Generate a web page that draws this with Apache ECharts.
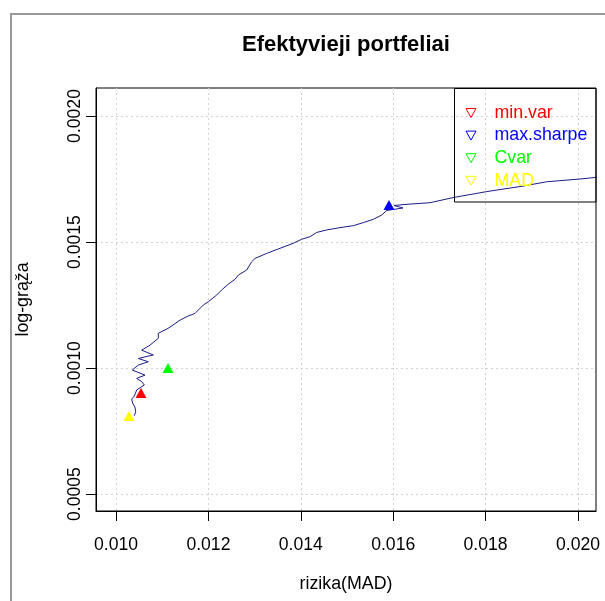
<!DOCTYPE html>
<html>
<head>
<meta charset="utf-8">
<script src="https://cdn.jsdelivr.net/npm/echarts@6/dist/echarts.min.js"></script>
<style>
html,body{margin:0;padding:0;background:#fff;}
#chart{width:605px;height:601px;}
</style>
</head>
<body>
<div id="chart"></div>
<script>
// Efficient frontier path (risk = MAD, return = log-return)
const frontierRisk = [0.010396,0.010426,0.010411,0.010361,0.010340,0.010396,0.010448,0.010613,0.010556,0.010448,
  0.010628,0.010353,0.010483,0.010699,0.010483,0.010807,0.010556,0.010736,0.010916,0.010916,
  0.011132,0.011385,0.011531,0.011710,0.011890,0.011998,0.012180,0.012288,0.012431,0.012576,
  0.012648,0.012829,0.012938,0.013009,0.013262,0.013550,0.013838,0.014019,0.014199,0.014344,
  0.014561,0.014848,0.015137,0.015353,0.015570,0.015751,0.015860,0.016212,0.016017,0.016255,
  0.016797,0.017316,0.018024,0.018816,0.019322,0.020043,0.020476];
const frontierRet = [0.000811,0.000827,0.000845,0.000861,0.000877,0.000889,0.000913,0.000933,0.000946,0.000959,
  0.000972,0.000992,0.001012,0.001025,0.001038,0.001052,0.001071,0.001091,0.001118,0.001138,
  0.001158,0.001190,0.001204,0.001217,0.001250,0.001263,0.001290,0.001310,0.001333,0.001352,
  0.001369,0.001389,0.001422,0.001435,0.001455,0.001475,0.001495,0.001511,0.001521,0.001538,
  0.001548,0.001557,0.001565,0.001577,0.001590,0.001607,0.001625,0.001635,0.001645,0.001649,
  0.001656,0.001677,0.001700,0.001722,0.001739,0.001750,0.001758];

// Special portfolios
const portfolioNames = ['min.var','max.sharpe','Cvar','MAD'];
const portfolioRisk  = [0.010541, 0.015909, 0.011126, 0.010281];
const portfolioRet   = [0.000901, 0.001647, 0.001000, 0.000810];
const portfolioColors = ['#ff0000','#0000ff','#00ff00','#ffff00'];

// Axis ticks
const xTicks = [0.010, 0.012, 0.014, 0.016, 0.018, 0.020];
const yTicks = [0.0005, 0.0010, 0.0015, 0.0020];

const FONT = "'Liberation Sans', Arial, sans-serif";
const chart = echarts.init(document.getElementById('chart'), null, {renderer:'canvas'});

const series = [{
  type: 'line',
  name: 'frontier',
  data: frontierRisk.map((x, i) => [x, frontierRet[i]]),
  showSymbol: false,
  symbol: 'none',
  lineStyle: {color: '#1c1c86', width: 1},
  clip: true,
  z: 2
}];
portfolioNames.forEach((n, i) => {
  series.push({
    type: 'scatter',
    name: n,
    data: [[portfolioRisk[i], portfolioRet[i]]],
    symbol: 'triangle',
    symbolSize: [11, 10],
    itemStyle: {color: portfolioColors[i], opacity: 1},
    z: 3
  });
});

const option = {
  animation: false,
  backgroundColor: '#fff',
  textStyle: {fontFamily: FONT},
  title: {
    text: 'Efektyvieji portfeliai',
    left: 346, top: 34, padding: 0,
    textAlign: 'center',
    textStyle: {fontFamily: FONT, fontSize: 22, fontWeight: 'bold', color: '#000'}
  },
  grid: {left: 96, top: 88, right: 9, bottom: 90, show: true, borderColor: '#000', borderWidth: 1, backgroundColor: 'transparent'},
  legend: {
    orient: 'vertical',
    left: 465.5, top: 104,
    padding: 0,
    itemWidth: 11, itemHeight: 9, itemGap: 4.6,
    selectedMode: false,
    textStyle: {fontFamily: FONT, fontSize: 17.8, padding: [0, 0, 0, 13]},
    data: portfolioNames.map((n, i) => ({
      name: n,
      icon: 'path://M0,0 L10,0 L5,9 Z',
      itemStyle: {color: 'rgba(0,0,0,0)', borderColor: portfolioColors[i], borderWidth: 1},
      textStyle: {color: portfolioColors[i]}
    }))
  },
  xAxis: {
    type: 'value',
    min: 0.009567, max: 0.02039,
    name: 'rizika(MAD)', nameLocation: 'middle', nameGap: 64,
    nameTextStyle: {fontFamily: FONT, fontSize: 17.8, color: '#000'},
    axisLine: {show: true, onZero: false, lineStyle: {color: '#000', width: 1}},
    axisTick: {show: true, inside: false, length: 10, customValues: xTicks, lineStyle: {color: '#000'}},
    axisLabel: {show: true, margin: 25, customValues: xTicks, fontFamily: FONT, fontSize: 17.6, color: '#000',
      formatter: v => v.toFixed(3)},
    splitLine: {show: true, lineStyle: {color: '#d3d3d3', type: [2, 3], width: 1}}
  },
  yAxis: {
    type: 'value',
    min: 0.000433, max: 0.002111,
    name: 'log-grąža', nameLocation: 'middle', nameGap: 64, nameRotate: 90,
    nameTextStyle: {fontFamily: FONT, fontSize: 17.8, color: '#000'},
    axisLine: {show: true, onZero: false, lineStyle: {color: '#000', width: 1}},
    axisTick: {show: true, inside: false, length: 10, customValues: yTicks, lineStyle: {color: '#000'}},
    axisLabel: {show: true, margin: 12, rotate: 90, customValues: yTicks, fontFamily: FONT, fontSize: 17.6, color: '#000',
      formatter: v => v.toFixed(4)},
    splitLine: {show: true, lineStyle: {color: '#d3d3d3', type: [2, 3], width: 1}}
  },
  graphic: [
    {type: 'rect', silent: true, z: 100,
      shape: {x: 11, y: 14, width: 800, height: 800},
      style: {fill: 'none', stroke: '#999', lineWidth: 2}},
    {type: 'rect', silent: true, z: 100,
      shape: {x: 454.5, y: 88.5, width: 141.5, height: 113.5},
      style: {fill: 'none', stroke: '#000', lineWidth: 1}}
  ],
  series: series
};
chart.setOption(option);
</script>
</body>
</html>
